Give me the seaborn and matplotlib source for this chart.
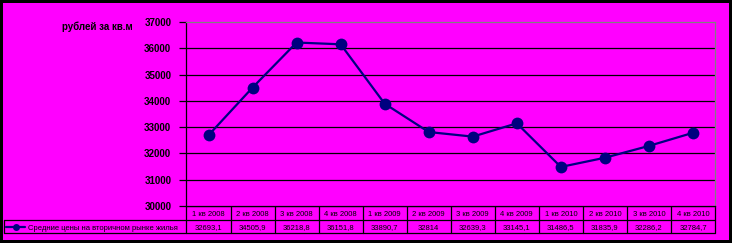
import matplotlib
matplotlib.use("Agg")
import matplotlib.pyplot as plt
import seaborn as sns
import pandas as pd
from matplotlib.lines import Line2D
from matplotlib.patches import Rectangle

categories = ["1 кв 2008", "2 кв 2008", "3 кв 2008", "4 кв 2008",
              "1 кв 2009", "2 кв 2009", "3 кв 2009", "4 кв 2009",
              "1 кв 2010", "2 кв 2010", "3 кв 2010", "4 кв 2010"]
prices = [32693.1, 34505.9, 36218.8, 36151.8, 33890.7, 32814,
          32639.3, 33145.1, 31486.5, 31835.9, 32286.2, 32784.7]
series_name = "Средние цены на вторичном рынке жилья"
y_label = "рублей за кв.м"
y_ticks = [30000, 31000, 32000, 33000, 34000, 35000, 36000, 37000]

W, H = 732, 243
MAG = "#FF00FF"
NAVY = "#000080"

sns.set_theme(style="white")
plt.rcParams["font.family"] = ["Liberation Sans", "DejaVu Sans"]

fig = plt.figure(figsize=(W / 100, H / 100), dpi=100, facecolor="black")
# magenta chart area inside black border
fig.patches.append(Rectangle((3 / W, 3 / H), (729 - 3) / W, (240 - 3) / H,
                             transform=fig.transFigure, facecolor=MAG,
                             edgecolor="none", zorder=-10))

L, R, T, B = 186.5, 715, 22, 206
ax = fig.add_axes([L / W, (H - B) / H, (R - L) / W, (B - T) / H])
ax.set_zorder(5)
ax.set_facecolor(MAG)

df = pd.DataFrame({"x": range(len(prices)), "price": prices})
sns.lineplot(data=df, x="x", y="price", ax=ax, color=NAVY, linewidth=1.6,
             marker="o", markersize=8.5, markeredgewidth=0,
             markerfacecolor=NAVY, zorder=5)

ax.set_xlim(-0.5, len(prices) - 0.5)
ax.set_ylim(30000, 37000)
ax.set_yticks(y_ticks)
ax.set_yticklabels([str(v) for v in y_ticks], fontsize=7, fontweight="bold",
                   color="black")
ax.set_xticks([])
ax.set_xlabel("")
ax.set_ylabel("")
for v in y_ticks[1:-1]:
    ax.axhline(v, color="black", linewidth=0.9, zorder=1)
ax.tick_params(axis="y", direction="out", length=5, width=0.9, color="black",
               pad=6, left=True)
for s in ["top", "right"]:
    ax.spines[s].set_color("#808080")
    ax.spines[s].set_linewidth(0.9)
ax.spines["left"].set_color("black")
ax.spines["left"].set_linewidth(0.9)
ax.spines["bottom"].set_color("black")
ax.spines["bottom"].set_linewidth(0.9)

fig.text(97 / W, (H - 27) / H, y_label, fontsize=7, fontweight="bold",
         ha="center", va="center", color="black")

# data table below the plot
def fx(px):
    return px / W

def fy(py):
    return (H - py) / H

row1_top, row1_bot, row2_bot = 206, 220, 233
col_w = (R - L) / len(categories)
lw = 0.9
fig.add_artist(Line2D([fx(L), fx(R)], [fy(row1_top)] * 2, color="black", lw=lw))
fig.add_artist(Line2D([fx(4), fx(R)], [fy(row1_bot)] * 2, color="black", lw=lw))
fig.add_artist(Line2D([fx(4), fx(R)], [fy(row2_bot)] * 2, color="black", lw=lw))
fig.add_artist(Line2D([fx(4), fx(4)], [fy(row1_bot), fy(row2_bot)], color="black", lw=lw))
for i in range(len(categories) + 1):
    xx = L + i * col_w
    fig.add_artist(Line2D([fx(xx), fx(xx)], [fy(row1_top), fy(row2_bot)],
                          color="black", lw=lw))
for i, (c, v) in enumerate(zip(categories, prices)):
    cx = L + (i + 0.5) * col_w
    fig.text(fx(cx), fy((row1_top + row1_bot) / 2 + 0.5), c, fontsize=5.5,
             ha="center", va="center_baseline", color="black")
    s = f"{v:g}".replace(".", ",")
    fig.text(fx(cx), fy((row1_bot + row2_bot) / 2 + 0.5), s, fontsize=5.5,
             ha="center", va="center_baseline", color="black")

# legend key in the table
ky = fy((row1_bot + row2_bot) / 2)
fig.add_artist(Line2D([fx(6), fx(25)], [ky, ky], color=NAVY, lw=1.6))
fig.add_artist(Line2D([fx(15.5)], [ky], color=NAVY, marker="o", markersize=5,
                      markeredgewidth=0))
fig.text(fx(28), fy((row1_bot + row2_bot) / 2 + 0.5), series_name,
         fontsize=5.5, ha="left", va="center_baseline", color="black")

fig.savefig("out.png", dpi=100, facecolor="black")
